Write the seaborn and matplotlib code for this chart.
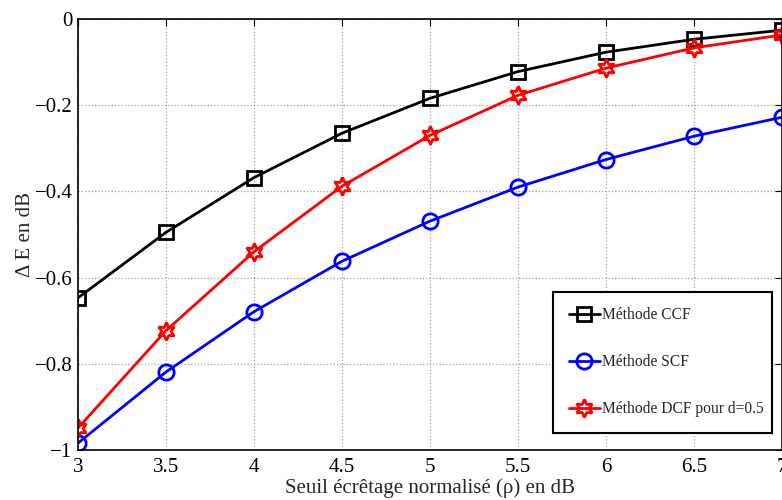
import numpy as np
import pandas as pd
import seaborn as sns
import matplotlib.pyplot as plt

# valeurs
rho_db = [3, 3.5, 4, 4.5, 5, 5.5, 6, 6.5, 7]
ccf = [-0.647, -0.495, -0.368, -0.265, -0.184, -0.122, -0.077, -0.047, -0.026]
scf = [-0.984, -0.819, -0.679, -0.562, -0.469, -0.390, -0.326, -0.272, -0.228]
dcf = [-0.949, -0.723, -0.540, -0.388, -0.270, -0.177, -0.114, -0.067, -0.037]

x_ticks = [3, 3.5, 4, 4.5, 5, 5.5, 6, 6.5, 7]
x_labels = ["3", "3.5", "4", "4.5", "5", "5.5", "6", "6.5", "7"]
y_ticks = [-1, -0.8, -0.6, -0.4, -0.2, 0]
y_labels = ["\u22121", "\u22120.8", "\u22120.6", "\u22120.4", "\u22120.2", "0"]

df = pd.DataFrame({"rho": rho_db, "CCF": ccf, "SCF": scf, "DCF": dcf})

sns.set_style("white")
plt.rcParams['font.family'] = ['Liberation Serif', 'DejaVu Serif']

fig = plt.figure(figsize=(7.82, 5), dpi=100)
ax = fig.add_axes([78 / 782, 0.1, 1 - 78 / 782, 0.862])

# une courbe par méthode
series = [
    ("CCF", "Méthode CCF", "black", "s", 10),
    ("SCF", "Méthode SCF", "blue", "o", 11),
    ("DCF", "Méthode DCF pour d=0.5", "red", (6, 1, 0), 13),
]
for col, label, color, marker, ms in series:
    sns.lineplot(data=df, x="rho", y=col, ax=ax, color=color, lw=2,
                 marker=marker, markersize=ms, markerfacecolor="none",
                 markeredgecolor=color, markeredgewidth=2, label=label)

ax.set_xlim(3, 7)
ax.set_ylim(-1, 0)
ax.set_xticks(x_ticks)
ax.set_xticklabels(x_labels)
ax.set_yticks(y_ticks)
ax.set_yticklabels(y_labels)
ax.tick_params(direction="in", top=True, right=True, length=5, width=0.8,
               labelsize=15, pad=4, colors="black")
ax.tick_params(axis="x", pad=6)
ax.grid(True, linestyle=":", color="#a0a0a0", lw=0.9)
for sp in ax.spines.values():
    sp.set_color("black")
    sp.set_linewidth(1.2)

ax.set_xlabel("Seuil écrêtage normalisé (ρ) en dB", fontsize=15, labelpad=1)
ax.set_ylabel("Δ E en dB", fontsize=15, labelpad=0)

# boîte de légende en bas à droite, largeur fixe
leg = ax.legend(loc="lower left",
                bbox_to_anchor=(553 / 782, 1 - 433 / 500, 219 / 782, 0.01),
                bbox_transform=fig.transFigure, mode="expand", borderaxespad=0,
                fontsize=11.2, labelspacing=2.0, handlelength=2.0,
                handletextpad=0.15, borderpad=1.0, fancybox=False,
                framealpha=1, edgecolor="black")
leg.get_frame().set_linewidth(1.5)

fig.savefig("out.png", dpi=100)
